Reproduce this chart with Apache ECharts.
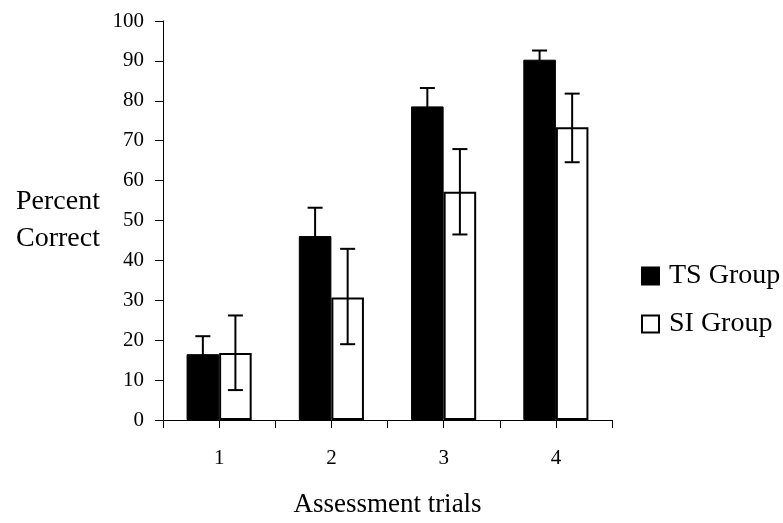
<!DOCTYPE html>
<html>
<head>
<meta charset="utf-8">
<script src="https://cdn.jsdelivr.net/npm/echarts@6/dist/echarts.min.js"></script>
<style>html,body{margin:0;padding:0;background:#fff}#c{width:783px;height:523px}</style>
</head>
<body>
<div id="c"></div>
<script>
const categories = ['1', '2', '3', '4'];
const tsValues = [16.5, 46.1, 78.6, 90.3];
const tsLow = [12.0, 39.0, 73.9, 87.9];
const tsHigh = [21.0, 53.2, 83.2, 92.6];
const siValues = [16.8, 30.7, 57.2, 73.4];
const siLow = [7.5, 19.0, 46.5, 64.6];
const siHigh = [26.2, 42.9, 67.9, 81.8];
const yTicks = [0, 10, 20, 30, 40, 50, 60, 70, 80, 90, 100];

const FONT = 'Liberation Serif';
const BAR_RATIO = 0.29;

const chart = echarts.init(document.getElementById('c'));

function errData(low, high, sign) {
  return low.map((l, i) => [i, l, high[i], sign]);
}

function renderErr(params, api) {
  const idx = api.value(0);
  const lo = api.coord([idx, api.value(1)]);
  const hi = api.coord([idx, api.value(2)]);
  const bw = api.size([1, 0])[0] * BAR_RATIO;
  const x = lo[0] + api.value(3) * bw / 2;
  const cap = 7.5;
  const style = { stroke: '#000', lineWidth: 2 };
  return {
    type: 'group',
    children: [
      { type: 'line', shape: { x1: x, y1: lo[1], x2: x, y2: hi[1] }, style },
      { type: 'line', shape: { x1: x - cap, y1: hi[1], x2: x + cap, y2: hi[1] }, style },
      { type: 'line', shape: { x1: x - cap, y1: lo[1], x2: x + cap, y2: lo[1] }, style }
    ]
  };
}

chart.setOption({
  animation: false,
  backgroundColor: '#fff',
  textStyle: { fontFamily: FONT, color: '#000' },
  grid: { left: 163, right: 171, top: 21, bottom: 97, containLabel: false },
  legend: {
    orient: 'vertical',
    left: 641,
    top: 262,
    padding: 0,
    itemWidth: 17,
    itemHeight: 17,
    itemGap: 20,
    icon: 'rect',
    textStyle: { fontFamily: FONT, fontSize: 28, color: '#000', lineHeight: 28, padding: [0, 0, 0, 5] },
    data: ['TS Group', 'SI Group']
  },
  xAxis: [
    {
      type: 'category',
      data: categories,
      boundaryGap: true,
      name: 'Assessment trials',
      nameLocation: 'middle',
      nameGap: 71,
      nameTextStyle: { fontFamily: FONT, fontSize: 27, color: '#000' },
      axisLine: { lineStyle: { color: '#000', width: 1 } },
      axisTick: { show: true, alignWithLabel: false, length: 8, lineStyle: { color: '#000' } },
      axisLabel: { fontFamily: FONT, fontSize: 21, color: '#000', margin: 28 }
    },
    {
      type: 'category',
      data: categories,
      position: 'bottom',
      boundaryGap: true,
      axisLine: { show: false },
      axisTick: { show: true, alignWithLabel: true, length: 8, lineStyle: { color: '#000' } },
      axisLabel: { show: false }
    }
  ],
  yAxis: {
    type: 'value',
    min: yTicks[0],
    max: yTicks[yTicks.length - 1],
    interval: 10,
    name: 'Percent\nCorrect',
    nameLocation: 'middle',
    nameRotate: 0,
    nameGap: 105,
    nameTextStyle: { fontFamily: FONT, fontSize: 28, color: '#000', lineHeight: 37, align: 'center' },
    axisLine: { show: true, lineStyle: { color: '#000', width: 1 } },
    axisTick: { show: true, length: 8, lineStyle: { color: '#000' } },
    axisLabel: { fontFamily: FONT, fontSize: 21, color: '#000', margin: 19 },
    splitLine: { show: false }
  },
  series: [
    {
      name: 'TS Group',
      type: 'bar',
      data: tsValues,
      barWidth: (BAR_RATIO * 100) + '%',
      barGap: '0%',
      itemStyle: { color: '#000', borderColor: '#000', borderWidth: 1 }
    },
    {
      name: 'SI Group',
      type: 'bar',
      data: siValues,
      barWidth: (BAR_RATIO * 100) + '%',
      barGap: '0%',
      itemStyle: { color: '#fff', borderColor: '#000', borderWidth: 2 }
    },
    {
      type: 'custom',
      renderItem: renderErr,
      data: errData(tsLow, tsHigh, -1),
      z: 10,
      silent: true
    },
    {
      type: 'custom',
      renderItem: renderErr,
      data: errData(siLow, siHigh, 1),
      z: 10,
      silent: true
    }
  ]
});
</script>
</body>
</html>
